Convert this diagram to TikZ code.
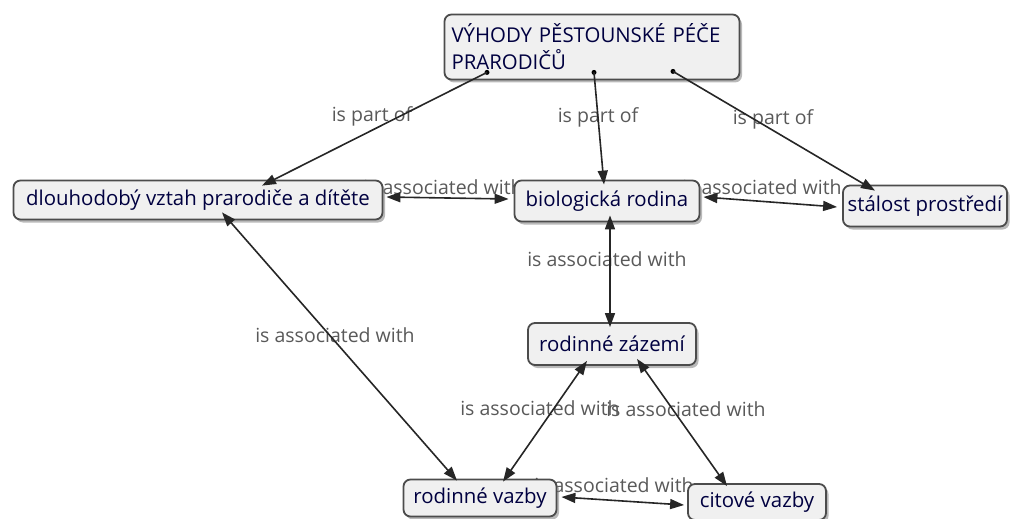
\documentclass[tikz,border=0pt]{standalone}
\usepackage{fontspec}
\setmainfont{Open Sans}
\usetikzlibrary{shadows,arrows.meta,calc}
\begin{document}
\begin{tikzpicture}[x=1pt,y=-1pt,
  concept/.style={draw=black!70, line width=1.8pt, rounded corners=7pt, fill=black!6,
    drop shadow={shadow xshift=2.5pt, shadow yshift=-3pt, opacity=0.55},
    font=\fontsize{20.4}{27}\selectfont, text=black!75!blue, inner sep=0pt},
  lbl/.style={font=\fontsize{19.5}{22}\selectfont, text=black!65},
  link/.style={line width=1.6pt, black!85, -{Triangle[length=14pt,width=10pt]}},
  both/.style={line width=1.6pt, black!85, {Triangle[length=14pt,width=10pt]}-{Triangle[length=14pt,width=10pt]}},
  dot/.style={circle, fill=black, inner sep=0pt, minimum size=5pt}
]
\useasboundingbox (0,0) rectangle (1010,519);
% labels first (nodes cover them)
\node[lbl] (l1) at (372,116) {is part of};
\node[lbl] (l2) at (598,117) {is part of};
\node[lbl] (l3) at (773,119) {is part of};
\node[lbl] (l4) at (443,187) {is associated with};
\node[lbl] (l5) at (762,187) {is associated with};
\node[lbl] (l6) at (607,259) {is associated with};
\node[lbl] (l7) at (335,335) {is associated with};
\node[lbl] (l8) at (540,408) {is associated with};
\node[lbl] (l9) at (686,409) {is associated with};
\node[lbl] (l10) at (614,485) {is associated with};

% concepts
\node[concept, minimum width=295, minimum height=65, align=left, text width=281, inner xsep=7pt] (top) at (592,47) {VÝHODY PĚSTOUNSKÉ PÉČE\\PRARODIČŮ};
\node[concept, minimum width=369, minimum height=39] (dl) at (198,200) {dlouhodobý vztah prarodiče a dítěte};
\node[concept, minimum width=185, minimum height=41] (bio) at (607,201) {biologická rodina};
\node[concept, minimum width=164, minimum height=41] (st) at (925,206) {stálost prostředí};
\node[concept, minimum width=168, minimum height=42] (zaz) at (612,344) {rodinné zázemí};
\node[concept, minimum width=153, minimum height=37] (rv) at (480,498) {rodinné vazby};
\node[concept, minimum width=138, minimum height=36] (cv) at (757,502) {citové vazby};

% connectors
\coordinate (s1) at ([xshift=-105pt,yshift=8pt]top.south);
\coordinate (s2) at ([xshift=2pt,yshift=8pt]top.south);
\coordinate (s3) at ([xshift=81pt,yshift=9pt]top.south);
\node[dot] (d1) at (s1) {};
\node[dot] (d2) at (s2) {};
\node[dot] (d3) at (s3) {};
\draw[link] (d1.center) -- ([xshift=64pt,yshift=-6pt]dl.north);
\draw[link] (d2.center) -- ([xshift=-3pt,yshift=-5pt]bio.north);
\draw[link] (d3.center) -- ([xshift=-50pt,yshift=-6pt]st.north);

\draw[both] ([xshift=3pt,yshift=3pt]dl.east) -- ([xshift=-5pt,yshift=2pt]bio.west);
\draw[both] ([xshift=3pt,yshift=4pt]bio.east) -- ([xshift=-5pt,yshift=-1pt]st.west);
\draw[both] ([xshift=3pt,yshift=7pt]bio.south) -- ([xshift=-2pt,yshift=-5pt]zaz.north);
\draw[both] ([xshift=24pt,yshift=8pt]dl.south) -- ([xshift=-23pt,yshift=-2pt]rv.north);
\draw[both] ([xshift=-25pt,yshift=5pt]zaz.south) -- ([xshift=23pt,yshift=-3pt]rv.north);
\draw[both] ([xshift=25pt,yshift=7pt]zaz.south) -- ([xshift=-30pt,yshift=-3pt]cv.north);
\draw[both] ([xshift=4pt,yshift=1pt]rv.east) -- ([xshift=-3pt,yshift=-3pt]cv.west);
\end{tikzpicture}
\end{document}
